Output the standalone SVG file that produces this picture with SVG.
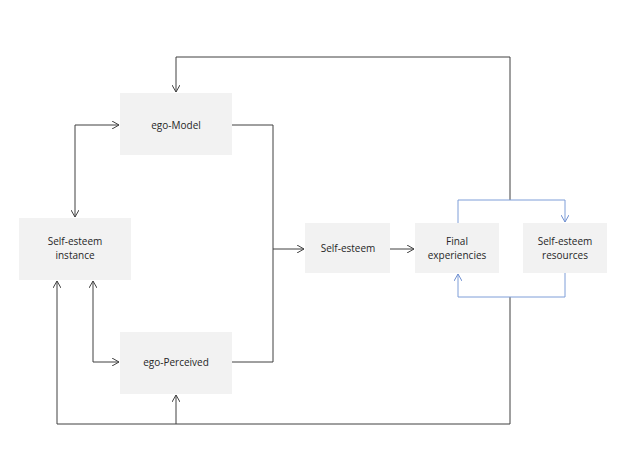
<svg xmlns="http://www.w3.org/2000/svg" width="623" height="467" viewBox="0 0 623 467">
<defs>
<marker id="a" markerWidth="8" markerHeight="8" refX="7" refY="4" orient="auto-start-reverse" markerUnits="userSpaceOnUse"><path d="M0,0 L7,4 L0,8" fill="none" stroke="#404040" stroke-width="1"/></marker>
<marker id="b" markerWidth="8" markerHeight="8" refX="7" refY="4" orient="auto-start-reverse" markerUnits="userSpaceOnUse"><path d="M0,0 L7,4 L0,8" fill="none" stroke="#6f8fd0" stroke-width="1"/></marker>
<style>
rect{fill:#f2f2f2}
text{font-family:"Open Sans","Liberation Sans",sans-serif;font-size:10px;fill:#262626;text-anchor:middle}
.c{fill:none;stroke:#404040;stroke-width:1}
.bl{fill:none;stroke:#7f9ed8;stroke-width:1}
</style>
</defs>
<rect width="623" height="467" style="fill:#fff"/>
<g id="connectors">
<path class="c" d="M232,125 H273 V362 H232"/>
<path class="c" d="M273,249 H304" marker-end="url(#a)"/>
<path class="c" d="M390,249 H414" marker-end="url(#a)"/>
<path class="c" d="M510,200 V57 H176 V92" marker-end="url(#a)"/>
<path class="c" d="M510,297 V424 H57 V281" marker-end="url(#a)"/>
<path class="c" d="M176,424 V395" marker-end="url(#a)"/>
<path class="c" d="M119,125 H75 V217" marker-start="url(#a)" marker-end="url(#a)"/>
<path class="c" d="M93,281 V362 H119" marker-start="url(#a)" marker-end="url(#a)"/>
<path class="bl" d="M458,223 V200 H565 V222" marker-end="url(#b)"/>
<path class="bl" d="M565,273 V297 H458 V274" marker-end="url(#b)"/>
</g>
<g id="egoModel"><rect x="120" y="93" width="112" height="62"/><text x="176" y="129">ego-Model</text></g>
<g id="instance"><rect x="19" y="218" width="112" height="62"/><text x="75" y="245">Self-esteem</text><text x="75" y="259">instance</text></g>
<g id="egoPerceived"><rect x="120" y="332" width="112" height="62"/><text x="176" y="366">ego-Perceived</text></g>
<g id="selfEsteem"><rect x="305" y="223" width="85" height="50"/><text x="348" y="252">Self-esteem</text></g>
<g id="final"><rect x="415" y="223" width="84" height="50"/><text x="457" y="245">Final</text><text x="457" y="259">experiencies</text></g>
<g id="resources"><rect x="523" y="223" width="84" height="50"/><text x="565" y="245">Self-esteem</text><text x="565" y="259">resources</text></g>
</svg>
